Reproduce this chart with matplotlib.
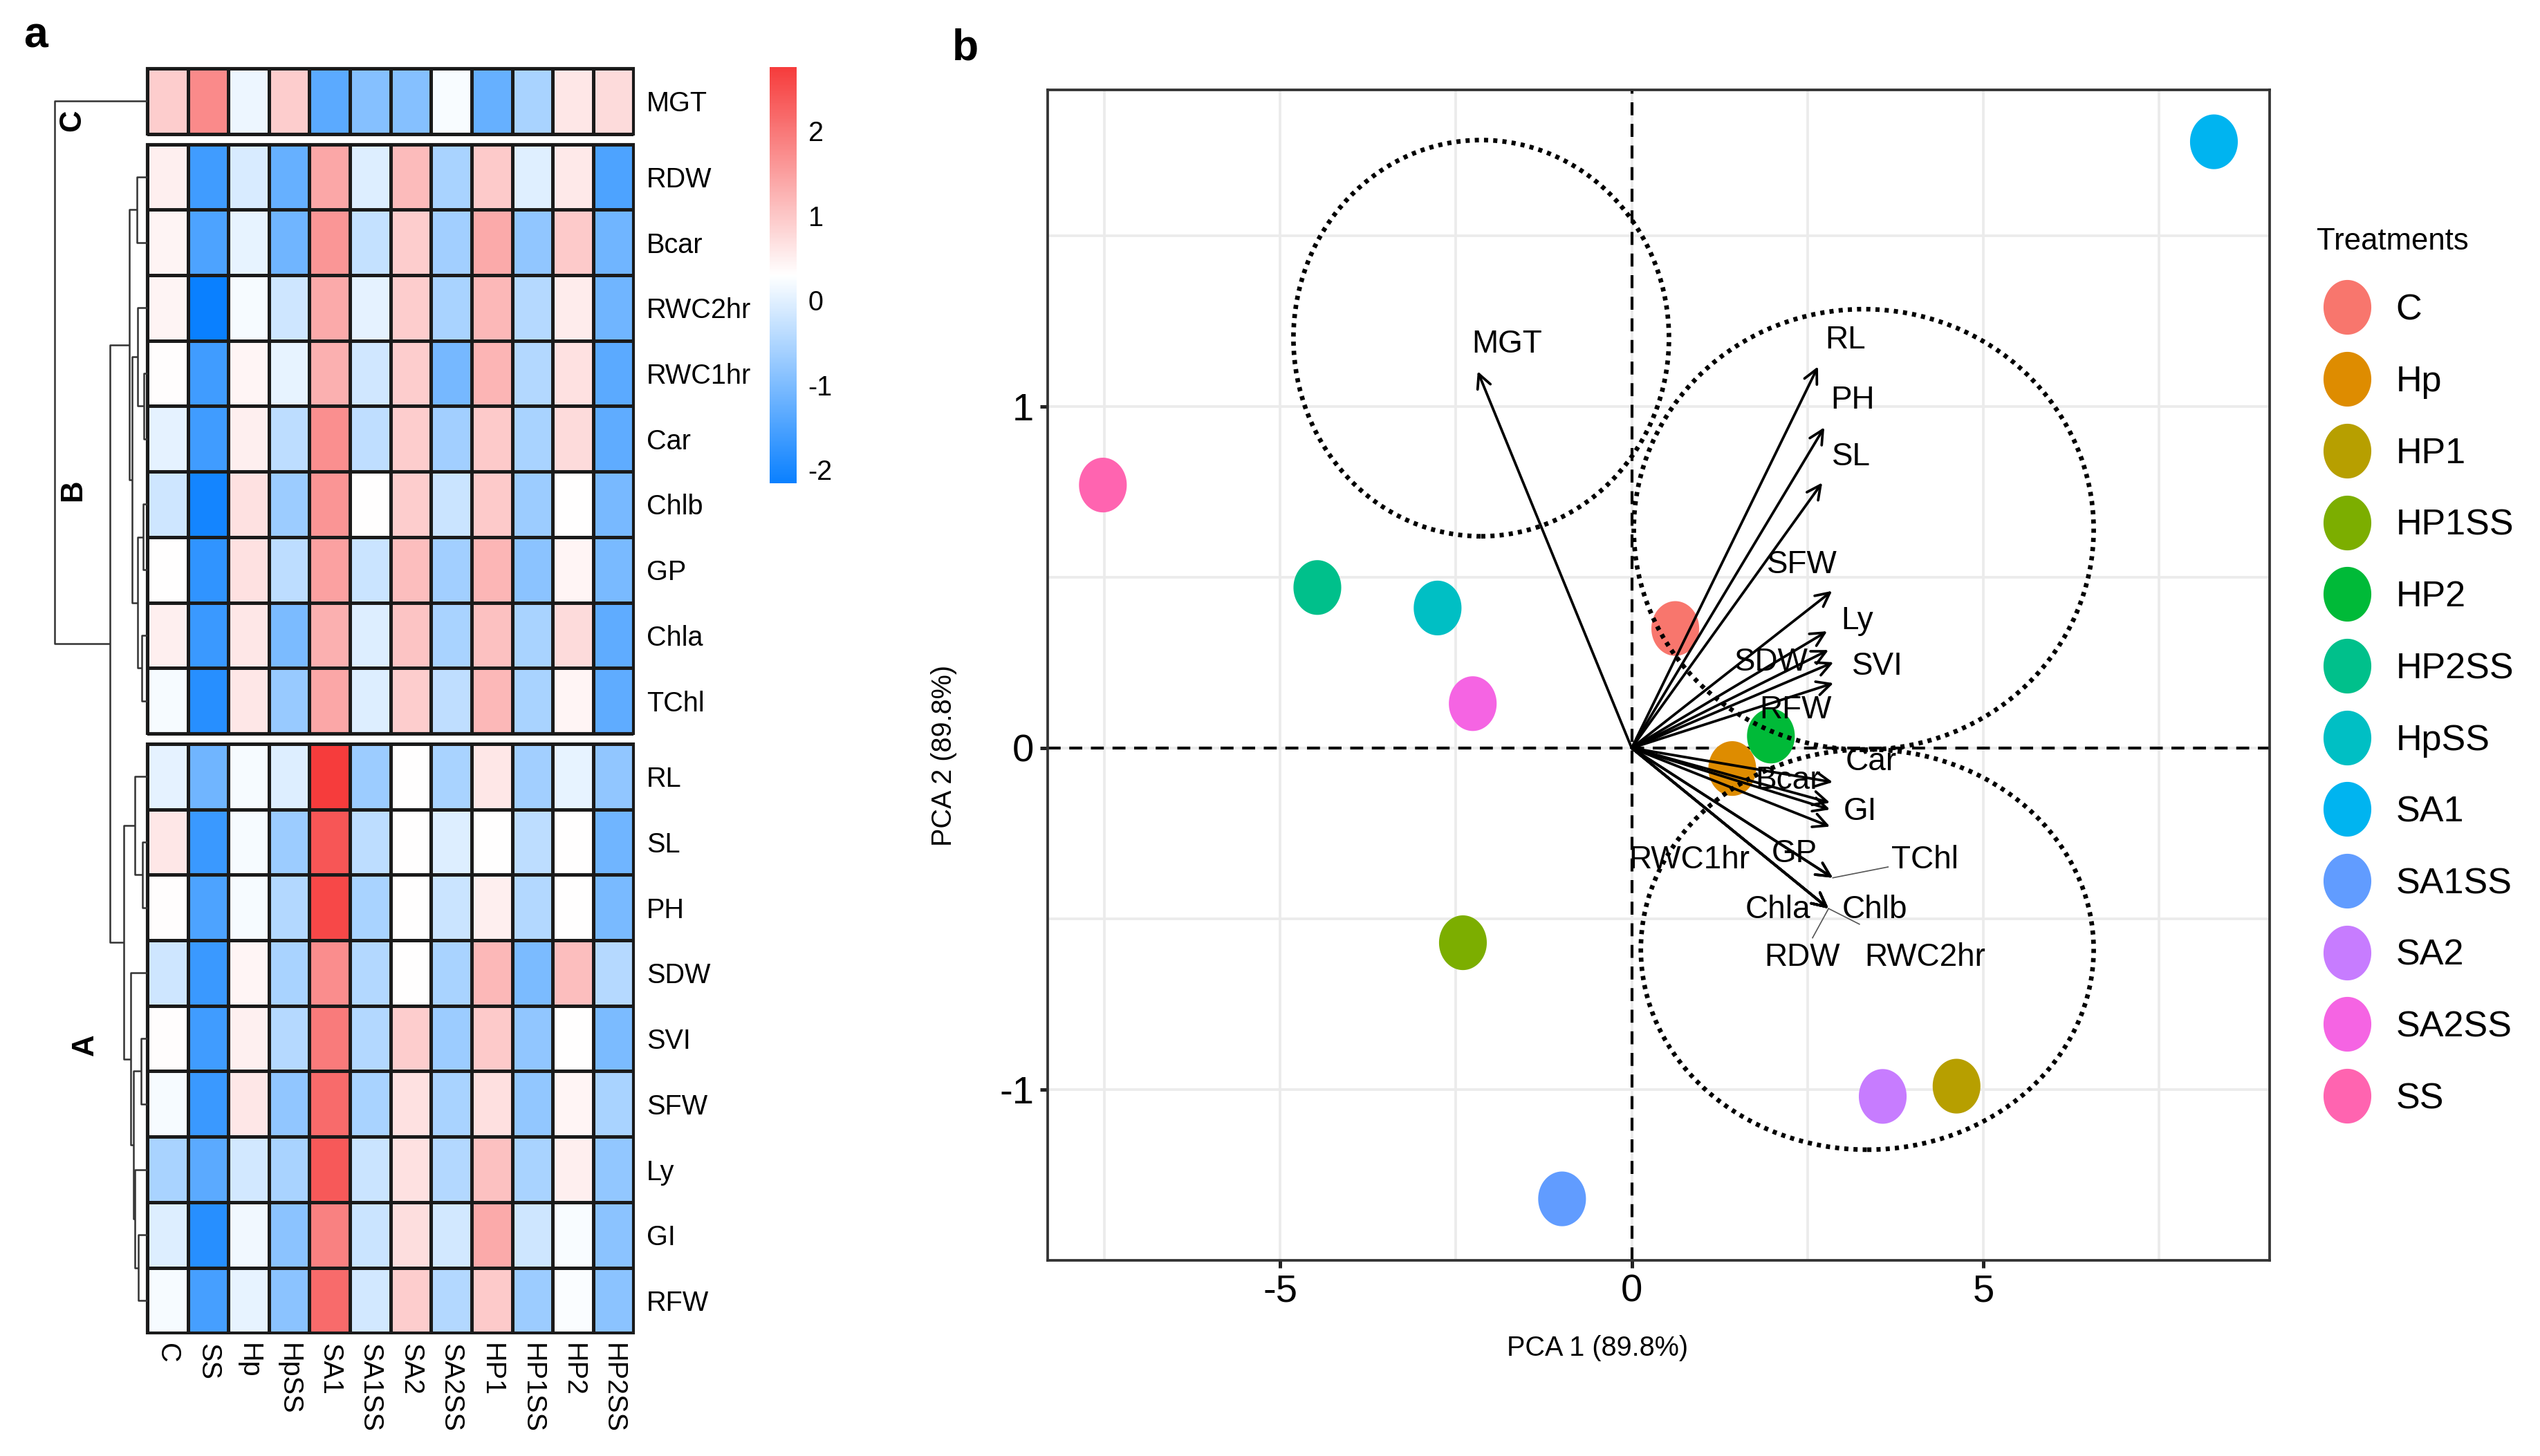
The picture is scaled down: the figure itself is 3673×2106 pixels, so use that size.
import numpy as np
import matplotlib
matplotlib.use("Agg")
import matplotlib.pyplot as plt
from matplotlib.colors import LinearSegmentedColormap, Normalize
from matplotlib.cm import ScalarMappable
from matplotlib.patches import Ellipse, Rectangle
from matplotlib.path import Path
from matplotlib.lines import Line2D

plt.rcParams["font.family"] = ["Liberation Sans", "DejaVu Sans"]
plt.rcParams["axes.unicode_minus"] = False

# ------------------------------------------------------------
# panel a : row-scaled heatmap (z-scores)
# ------------------------------------------------------------
treat_cols = ["C", "SS", "Hp", "HpSS", "SA1", "SA1SS", "SA2", "SA2SS",
              "HP1", "HP1SS", "HP2", "HP2SS"]

rows_c = ["MGT"]
rows_b = ["RDW", "Bcar", "RWC2hr", "RWC1hr", "Car", "Chlb", "GP", "Chla", "TChl"]
rows_a = ["RL", "SL", "PH", "SDW", "SVI", "SFW", "Ly", "GI", "RFW"]

z_c = [
    [0.91, 1.77, 0.12, 0.91, -1.35, -0.93, -0.93, 0.22, -1.23, -0.56, 0.59, 0.74],
]
z_b = [
    [0.49, -1.62, -0.10, -1.23, 1.40, -0.05, 1.15, -0.56, 0.96, -0.02, 0.57, -1.47],
    [0.44, -1.47, 0.05, -1.13, 1.60, -0.29, 0.91, -0.64, 1.35, -0.81, 0.96, -1.13],
    [0.44, -2.16, 0.20, -0.20, 1.35, 0.03, 0.91, -0.56, 1.18, -0.44, 0.54, -1.13],
    [0.32, -1.62, 0.42, 0.05, 1.28, -0.17, 0.91, -1.08, 1.23, -0.47, 0.66, -1.35],
    [0.03, -1.62, 0.49, -0.37, 1.70, -0.34, 0.91, -0.64, 0.96, -0.56, 0.74, -1.30],
    [-0.20, -2.06, 0.66, -0.69, 1.62, 0.30, 0.91, -0.24, 0.96, -0.69, 0.30, -1.05],
    [0.30, -1.77, 0.66, -0.37, 1.47, -0.24, 1.11, -0.64, 1.20, -0.86, 0.42, -1.03],
    [0.49, -1.67, 0.59, -1.01, 1.28, -0.05, 1.03, -0.56, 1.08, -0.56, 0.74, -1.30],
    [0.20, -1.86, 0.59, -0.74, 1.40, -0.05, 0.91, -0.34, 1.18, -0.56, 0.42, -1.30],
]
z_a = [
    [0.03, -1.13, 0.20, -0.05, 2.75, -0.69, 0.30, -0.56, 0.59, -0.64, 0.05, -0.81],
    [0.59, -1.67, 0.20, -0.69, 2.41, -0.37, 0.30, -0.05, 0.30, -0.37, 0.30, -1.13],
    [0.32, -1.47, 0.20, -0.47, 2.58, -0.56, 0.30, -0.24, 0.49, -0.47, 0.30, -1.03],
    [-0.20, -1.67, 0.42, -0.56, 1.72, -0.47, 0.30, -0.56, 1.18, -1.01, 1.11, -0.44],
    [0.32, -1.62, 0.47, -0.44, 1.96, -0.47, 0.91, -0.69, 0.96, -0.81, 0.30, -1.01],
    [0.20, -1.67, 0.59, -0.81, 2.14, -0.56, 0.66, -0.56, 0.69, -0.78, 0.42, -0.56],
    [-0.56, -1.35, -0.15, -0.56, 2.38, -0.24, 0.66, -0.47, 1.08, -0.56, 0.49, -0.78],
    [-0.05, -1.86, 0.15, -0.86, 1.87, -0.24, 0.71, -0.15, 1.35, -0.20, 0.22, -0.86],
    [0.20, -1.55, 0.05, -0.86, 2.14, -0.15, 0.91, -0.47, 0.96, -0.69, 0.25, -0.86],
]
cluster_names = ["C", "B", "A"]

# row dendrogram: leaves are rows_c + rows_b + rows_a (0..18), new nodes get 19, 20, ...
merge_left = [4, 6, 8, 11, 17, 14, 3, 20, 1, 10, 16, 24, 25, 13, 27, 28, 33, 0]
merge_right = [5, 7, 9, 12, 18, 15, 19, 21, 2, 22, 23, 29, 26, 30, 31, 32, 34, 35]
merge_height = [5, 6, 8, 7, 13, 9, 14, 14, 15, 17.5, 17.5, 20, 22, 24, 26, 33.5, 53.5, 133]

# ------------------------------------------------------------
# panel b : PCA biplot
# ------------------------------------------------------------
treatments = ["C", "Hp", "HP1", "HP1SS", "HP2", "HP2SS", "HpSS", "SA1",
              "SA1SS", "SA2", "SA2SS", "SS"]
pc1 = [0.62, 1.43, 4.62, -2.40, 1.98, -4.47, -2.76, 8.28, -0.99, 3.57, -2.26, -7.52]
pc2 = [0.35, -0.06, -0.99, -0.57, 0.035, 0.47, 0.41, 1.775, -1.32, -1.02, 0.13, 0.77]
treat_colors = ["#F8766D", "#DE8C00", "#B79F00", "#7CAE00", "#00BA38", "#00C08B",
                "#00BFC4", "#00B4F0", "#619CFF", "#C77CFF", "#F564E3", "#FF64B0"]

var_names = ["MGT", "RL", "PH", "SL", "SFW", "Ly", "SDW", "SVI", "RFW", "Car",
             "Bcar", "RWC1hr", "GI", "GP", "TChl", "Chla", "Chlb", "RDW", "RWC2hr"]
load1 = [-2.19, 2.65, 2.74, 2.71, 2.85, 2.78, 2.80, 2.87, 2.87, 2.86,
         2.82, 2.82, 2.82, 2.86, 2.86, 2.80, 2.80, 2.80, 2.80]
load2 = [1.103, 1.117, 0.939, 0.777, 0.460, 0.342, 0.287, 0.251, 0.190, -0.100,
         -0.160, -0.180, -0.230, -0.380, -0.380, -0.470, -0.470, -0.470, -0.470]
lab1 = [-1.77, 3.04, 3.14, 3.12, 2.42, 3.21, 1.99, 3.50, 2.33, 3.40,
        2.22, 0.82, 3.25, 2.31, 4.17, 2.08, 3.46, 2.42, 4.17]
lab2 = [1.183, 1.194, 1.018, 0.853, 0.537, 0.373, 0.251, 0.239, 0.111, -0.041,
        -0.096, -0.327, -0.187, -0.309, -0.327, -0.473, -0.473, -0.613, -0.613]
# labels joined to their arrow tip by a thin segment (fraction of the way to the label)
seg_vars = ["TChl", "RDW", "RWC2hr"]
seg_frac = [0.6, 0.6, 0.32]

circle_x = [-2.14, 3.30, 3.35]
circle_y = [1.20, 0.64, -0.59]
circle_rx = [2.67, 3.27, 3.22]
circle_ry = [0.58, 0.645, 0.586]

# ------------------------------------------------------------
W, H, DPI = 3673, 2106, 300
fig = plt.figure(figsize=(W / DPI, H / DPI), dpi=DPI)


def px_axes(x0, y0, x1, y1):
    return fig.add_axes([x0 / W, 1 - y1 / H, (x1 - x0) / W, (y1 - y0) / H])


cmap = LinearSegmentedColormap.from_list("bwr_ph", ["#0A80FF", "#FFFFFF", "#F63C3C"])
norm = Normalize(vmin=-2.16, vmax=2.75)
line_col = "#1a1a1a"

ax_hm = px_axes(212.9, 98.9, 916.4, 1928.3)
ax_den = px_axes(79, 98.9, 212.9, 1928.3)
ax_cb = px_axes(1113, 97, 1152, 699)

gap = 0.158
y0 = 0.0
centers, row_labels = [], []
for names, z in [(rows_c, z_c), (rows_b, z_b), (rows_a, z_a)]:
    z = np.array(z)
    ny = len(names)
    ax_hm.pcolormesh(np.arange(len(treat_cols) + 1), y0 + np.arange(ny + 1), z,
                     cmap=cmap, norm=norm, edgecolors=line_col, linewidth=0.8)
    ax_hm.add_patch(Rectangle((0, y0), len(treat_cols), ny, fill=False,
                              ec=line_col, lw=1.0, clip_on=False))
    centers += list(y0 + 0.5 + np.arange(ny))
    row_labels += names
    y0 += ny + gap

ax_hm.set_xlim(0, len(treat_cols))
ax_hm.set_ylim(y0 - gap, 0)
ax_hm.set_yticks(centers)
ax_hm.set_yticklabels(row_labels, fontsize=9.5)
ax_hm.yaxis.tick_right()
ax_hm.set_xticks(np.arange(len(treat_cols)) + 0.5)
ax_hm.set_xticklabels(treat_cols, rotation=-90, fontsize=9.5, va="top", ha="center")
ax_hm.tick_params(axis="y", length=0, pad=4.5)
ax_hm.tick_params(axis="x", length=0, pad=3.5)
for s in ax_hm.spines.values():
    s.set_visible(False)

# dendrogram
node_y = list(centers)
node_h = [0.0] * len(centers)
for l, r, h in zip(merge_left, merge_right, merge_height):
    yl, yr = node_y[l], node_y[r]
    ax_den.plot([node_h[l], h, h, node_h[r]], [yl, yl, yr, yr],
                color="#333333", lw=0.6, clip_on=False, solid_capstyle="butt")
    node_y.append((yl + yr) / 2)
    node_h.append(h)
ax_den.set_xlim(merge_height[-1], 0)
ax_den.set_ylim(y0 - gap, 0)
ax_den.axis("off")
ax_den.text(107, 0.80, cluster_names[0], rotation=90, fontsize=10.5, fontweight="bold",
            ha="center", va="center")
ax_den.text(107, 6.44, cluster_names[1], rotation=90, fontsize=10.5, fontweight="bold",
            ha="center", va="center")
ax_den.text(89, 14.91, cluster_names[2], rotation=90, fontsize=10.5, fontweight="bold",
            ha="center", va="center")

# colour key
cb = fig.colorbar(ScalarMappable(norm=norm, cmap=cmap), cax=ax_cb, ticks=[-2, -1, 0, 1, 2])
cb.outline.set_visible(False)
ax_cb.tick_params(length=0, pad=4, labelsize=9.5)

fig.text(52 / W, 1 - 52 / H, "a", fontsize=15, fontweight="bold", ha="center", va="center")
fig.text(1396 / W, 1 - 70 / H, "b", fontsize=15, fontweight="bold", ha="center", va="center")

# ------------------------------------------------------------
ax = px_axes(1514.5, 130, 3281.8, 1823)
ax.set_xlim(-8.31, 9.07)
ax.set_ylim(-1.472, 1.927)
ax.set_xticks([-5, 0, 5])
ax.set_xticks([-7.5, -2.5, 2.5, 7.5], minor=True)
ax.set_yticks([-1, 0, 1])
ax.set_yticks([-1.5, -0.5, 0.5, 1.5], minor=True)
ax.grid(which="both", color="#EBEBEB", lw=0.9)
ax.set_axisbelow(True)
ax.tick_params(which="major", labelsize=13.5, length=2.6, width=1.2, color="#222222", pad=2)
ax.tick_params(which="minor", length=0)
for s in ax.spines.values():
    s.set_color("#333333")
    s.set_linewidth(0.9)

ax.axhline(0, color="black", lw=1.0, ls=(0, (4.5, 3)), zorder=1.5)
ax.axvline(0, color="black", lw=1.0, ls=(0, (4.5, 3)), zorder=1.5)

theta = np.linspace(0, 2 * np.pi, 80)
ell_marker = Path(np.column_stack([0.873 * np.cos(theta), np.sin(theta)]), closed=True)

ax.scatter(pc1, pc2, s=19 ** 2, marker=ell_marker, c=treat_colors, linewidths=0, zorder=2)

for name, x1, y1 in zip(var_names, load1, load2):
    ax.annotate("", xy=(x1, y1), xytext=(0, 0),
                arrowprops=dict(arrowstyle="->", lw=0.9, color="black",
                                shrinkA=0, shrinkB=0, mutation_scale=12),
                zorder=3)

for cx, cy, rx, ry in zip(circle_x, circle_y, circle_rx, circle_ry):
    ax.add_patch(Ellipse((cx, cy), 2 * rx, 2 * ry, fill=False, ec="black",
                         lw=1.6, ls=(0, (0.9, 1.1)), zorder=4))

for name, f in zip(seg_vars, seg_frac):
    i = var_names.index(name)
    ax.plot([load1[i], load1[i] + f * (lab1[i] - load1[i])],
            [load2[i], load2[i] + f * (lab2[i] - load2[i])],
            color="#555555", lw=0.4, zorder=3)

for name, lx, ly in zip(var_names, lab1, lab2):
    ax.text(lx, ly, name, fontsize=11, ha="center", va="center", zorder=5)

ax.set_xlabel("PCA 1 (89.8%)", fontsize=9.5)
ax.xaxis.set_label_coords(0.45, -0.064)
ax.set_ylabel("PCA 2 (89.8%)", fontsize=9.5)
ax.yaxis.set_label_coords(-0.074, 0.431)

handles = [Line2D([], [], marker=ell_marker, ls="", markersize=19,
                  markerfacecolor=c, markeredgewidth=0) for c in treat_colors]
fig.legend(handles, treatments, title="Treatments", loc="upper left",
           bbox_to_anchor=(3350 / W, 1 - 329 / H), frameon=False, fontsize=12.5,
           title_fontsize=10.5, labelspacing=1.05, handlelength=1.7, handletextpad=0.5,
           borderpad=0, borderaxespad=0, alignment="left")

fig.savefig("out.png", dpi=DPI)
